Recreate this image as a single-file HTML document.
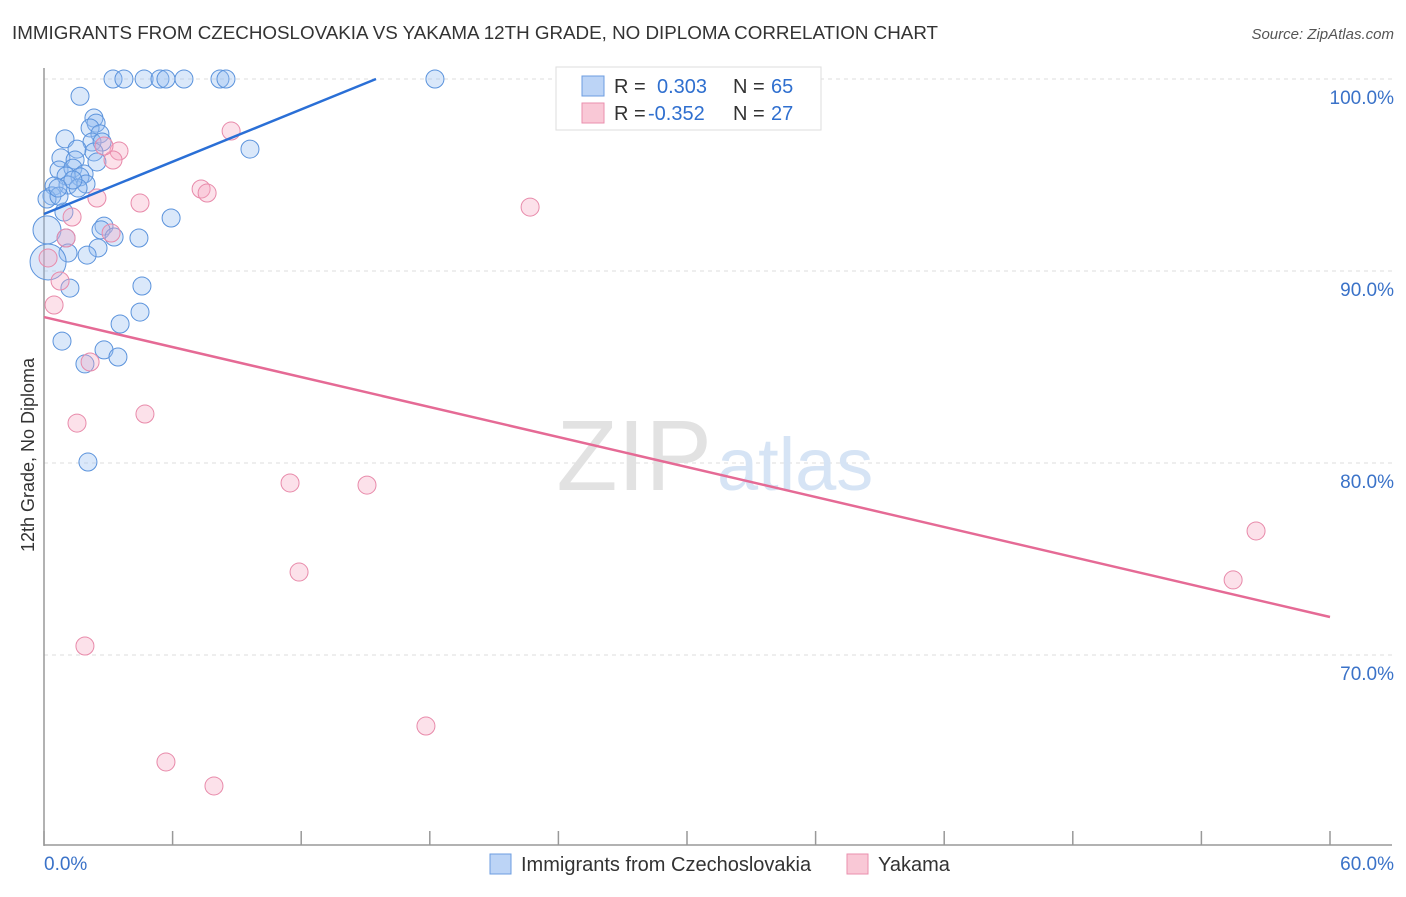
<!DOCTYPE html>
<html><head><meta charset="utf-8"><style>
body{margin:0;background:#fff;font-family:"Liberation Sans",sans-serif;}
svg text{font-family:"Liberation Sans",sans-serif;}
</style></head><body>
<svg width="1406" height="892" viewBox="0 0 1406 892">
<text x="12" y="39" font-size="18.8" fill="#333">IMMIGRANTS FROM CZECHOSLOVAKIA VS YAKAMA 12TH GRADE, NO DIPLOMA CORRELATION CHART</text>
<text x="1394" y="39" font-size="15" fill="#555" font-style="italic" text-anchor="end">Source: ZipAtlas.com</text>
<g id="grid"></g>
<text x="712" y="490" font-size="100" fill="#e2e2e2" text-anchor="end" font-family="Liberation Serif">ZIP</text>
<text x="717" y="490" font-size="74" fill="#d6e4f5">atlas</text>
<line x1="44" y1="68" x2="44" y2="846" stroke="#999" stroke-width="1.5"/>
<line x1="44" y1="845" x2="1392" y2="845" stroke="#999" stroke-width="1.5"/>
<g id="ticks"></g>
<g id="pts"></g>
<g id="lines"></g>
<text x="34" y="455" font-size="18" fill="#333" text-anchor="middle" transform="rotate(-90 34 455)">12th Grade, No Diploma</text>
<text x="44" y="870" font-size="19" fill="#3a72c8">0.0%</text>
<text x="1394" y="870" font-size="19" fill="#3a72c8" text-anchor="end">60.0%</text>
<g>
<rect x="556" y="67" width="265" height="63" fill="#fff" stroke="#ddd"/>
<rect x="582" y="76" width="22" height="20" fill="#bcd4f6" stroke="#6c9de0"/>
<rect x="582" y="103" width="22" height="20" fill="#f9c8d6" stroke="#ea8fae"/>
<text x="614" y="93" font-size="20" fill="#333">R =</text>
<text x="657" y="93" font-size="20" fill="#2f6fcf">0.303</text>
<text x="733" y="93" font-size="20" fill="#333">N =</text>
<text x="771" y="93" font-size="20" fill="#2f6fcf">65</text>
<text x="614" y="120" font-size="20" fill="#333">R =</text>
<text x="648" y="120" font-size="20" fill="#2f6fcf">-0.352</text>
<text x="733" y="120" font-size="20" fill="#333">N =</text>
<text x="771" y="120" font-size="20" fill="#2f6fcf">27</text>
</g>
<g>
<rect x="490" y="854" width="21" height="20" fill="#bcd4f6" stroke="#6c9de0"/>
<text x="521" y="871" font-size="20" fill="#333">Immigrants from Czechoslovakia</text>
<rect x="847" y="854" width="21" height="20" fill="#f9c8d6" stroke="#ea8fae"/>
<text x="878" y="871" font-size="20" fill="#333">Yakama</text>
</g>
</svg>
<script>
const yTicks=[100,90,80,70];
const yTickLabels=["100.0%","90.0%","80.0%","70.0%"];
const xTicks=[0,6,12,18,24,30,36,42,48,54,60];
const blueX=[3.22,3.73,4.67,5.41,5.69,6.53,8.21,8.49,18.24,1.68,2.33,2.43,2.15,2.61,0.98,2.24,2.71,2.33,1.54,0.79,1.45,2.47,0.70,1.35,1.87,1.03,1.68,0.47,1.12,1.96,1.59,0.37,0.14,9.61,0.93,5.93,2.80,0.14,2.66,3.27,1.03,4.43,2.52,1.12,2.01,0.19,1.21,4.57,4.48,3.55,0.84,2.80,3.45,1.91,2.05,0.70,1.35,0.65];
const blueY=[100,100,100,100,100,100,100,100,100,99.1,97.97,97.7,97.45,97.14,96.88,96.72,96.72,96.2,96.35,95.89,95.78,95.68,95.26,95.36,95.05,94.95,94.9,94.43,94.48,94.53,94.32,93.91,93.75,96.35,93.07,92.76,92.34,92.14,92.14,91.77,91.72,91.72,91.2,90.94,90.83,90.47,89.11,89.22,87.86,87.24,86.35,85.89,85.52,85.16,80.05,93.9,94.74,94.32];
const pinkX=[8.73,3.50,3.22,2.80,7.33,7.61,4.48,2.47,22.68,1.31,1.03,3.13,0.19,0.75,0.47,2.15,4.71,1.54,11.48,15.07,11.9,1.91,17.82,5.69,7.93,56.55,55.48];
const pinkY=[97.29,96.25,95.78,96.51,94.27,94.06,93.54,93.8,93.33,92.81,91.72,91.98,90.68,89.48,88.23,85.26,82.55,82.08,78.96,78.85,74.32,70.47,66.3,64.43,63.18,76.46,73.91];
const blueTrend=[[0,92.97],[15.49,100]];
const pinkTrend=[[0,87.6],[60,71.98]];
const X=v=>44+v/60*1286, Y=v=>79+(100-v)*19.2;
const NS="http://www.w3.org/2000/svg";
function mk(t,a,p){const e=document.createElementNS(NS,t);for(const k in a)e.setAttribute(k,a[k]);p.appendChild(e);return e;}
const grid=document.getElementById('grid');
yTicks.forEach((t,i)=>{
 const l=mk('line',{x1:44,x2:1392,y1:Y(t),y2:Y(t),stroke:'#ddd','stroke-dasharray':'4,4'},grid);
 
 
 const tx=mk('text',{x:1394,y:Y(t)+25,'font-size':19,fill:'#3a72c8','text-anchor':'end'},grid);
 tx.textContent=yTickLabels[i];
 
 
});
const ticks=document.getElementById('ticks');
xTicks.forEach(t=>{
 const l=mk('line',{x1:X(t),x2:X(t),y1:831,y2:845,stroke:'#999','stroke-width':1.5},ticks);
 
 
});
const pts=document.getElementById('pts');
blueX.forEach((x,i)=>{
 const big=(x<0.2&&blueY[i]<93)?(blueY[i]<91?18:14):9;
 const c=mk('circle',{cx:X(x),cy:Y(blueY[i]),r:big,fill:'rgba(150,190,240,0.35)',stroke:'#5b93dc','stroke-width':1},pts);
 
 
});
pinkX.forEach((x,i)=>{
 const c=mk('circle',{cx:X(x),cy:Y(pinkY[i]),r:9,fill:'rgba(245,170,195,0.35)',stroke:'#e88aaa','stroke-width':1},pts);
 
 
});
const lines=document.getElementById('lines');
const bl=mk('line',{x1:X(blueTrend[0][0]),y1:Y(blueTrend[0][1]),x2:X(blueTrend[1][0]),y2:Y(blueTrend[1][1]),stroke:'#2a6fd6','stroke-width':2.5},lines);


const pl=mk('line',{x1:X(pinkTrend[0][0]),y1:Y(pinkTrend[0][1]),x2:X(pinkTrend[1][0]),y2:Y(pinkTrend[1][1]),stroke:'#e56a95','stroke-width':2.5},lines);


</script>
</body></html>
